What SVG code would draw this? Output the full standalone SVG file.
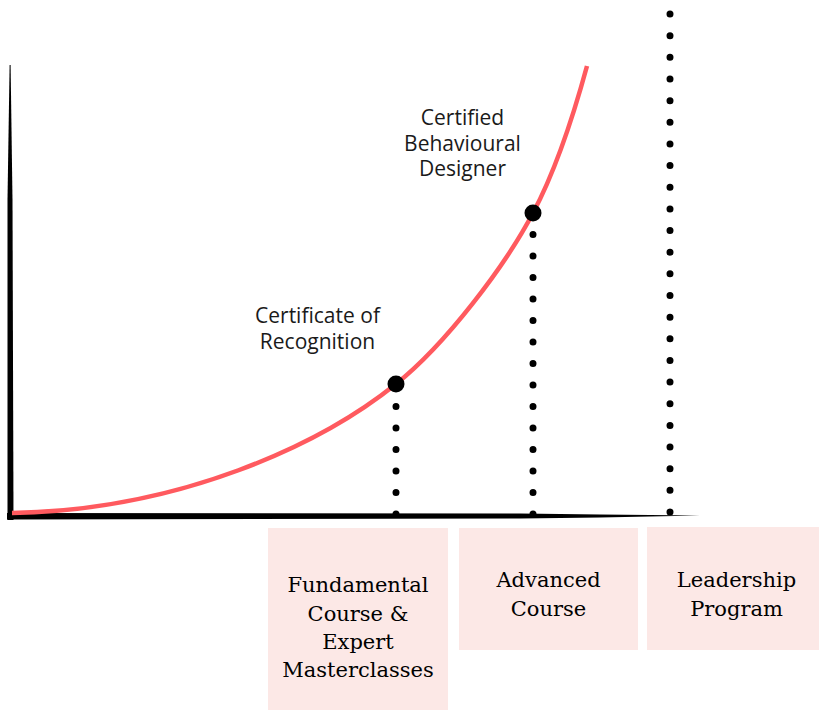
<svg xmlns="http://www.w3.org/2000/svg" width="819" height="710" viewBox="0 0 819 710">
<style>
.box{fill:#fce8e6}
.serif{font-family:"DejaVu Serif","Liberation Serif",serif;font-size:21px;fill:#000;text-anchor:middle}
.sans{font-family:"Open Sans","Noto Sans",sans-serif;font-size:21px;fill:#1a1a1a;text-anchor:middle}
.dots{stroke:#000;stroke-width:7;stroke-linecap:round;fill:none}
.axis{fill:#000}
</style>
<rect width="819" height="710" fill="#fff"/>
<g id="connectors">
<path class="dots" d="M396,514 L396,400" stroke-dasharray="0 21.5"/>
<path class="dots" d="M533,514 L533,230" stroke-dasharray="0 21.5"/>
<path class="dots" d="M670,512 L670,10" stroke-dasharray="0 21.65"/>
</g>
<g id="axes">
<path class="axis" d="M7.5,520 L13.5,520 L12.5,200 L10.6,65 L9.6,65 L7.5,200 Z"/>
<path class="axis" d="M7,513 L520,513.5 L600,514.5 L700,515.5 L600,517.5 L520,518.5 L7,519.5 Z"/>
</g>
<g id="curve">
<path d="M12,513 C180,510 320,445 396,384 C446,344 505,266 533,213 C558,166 575,110 587,66" fill="none" stroke="#ff5a5f" stroke-width="4.5"/>
</g>
<g id="milestone-recognition">
<circle cx="396" cy="384" r="8.5" fill="#000"/>
<text class="sans" x="317.5" y="323">Certificate of</text>
<text class="sans" x="317.5" y="348.5">Recognition</text>
</g>
<g id="milestone-designer">
<circle cx="533" cy="213" r="8.5" fill="#000"/>
<text class="sans" x="462.5" y="125">Certified</text>
<text class="sans" x="462.5" y="150.5">Behavioural</text>
<text class="sans" x="462.5" y="176">Designer</text>
</g>
<g id="box-fundamental">
<rect class="box" x="268" y="528" width="180" height="182"/>
<text class="serif" x="358" y="592">Fundamental</text>
<text class="serif" x="358" y="620.5">Course &amp;</text>
<text class="serif" x="358" y="649">Expert</text>
<text class="serif" x="358" y="677">Masterclasses</text>
</g>
<g id="box-advanced">
<rect class="box" x="459" y="528" width="179" height="122"/>
<text class="serif" x="548.5" y="587">Advanced</text>
<text class="serif" x="548.5" y="616">Course</text>
</g>
<g id="box-leadership">
<rect class="box" x="647" y="527" width="172" height="123"/>
<text class="serif" x="736.5" y="587">Leadership</text>
<text class="serif" x="736.5" y="616">Program</text>
</g>
</svg>
